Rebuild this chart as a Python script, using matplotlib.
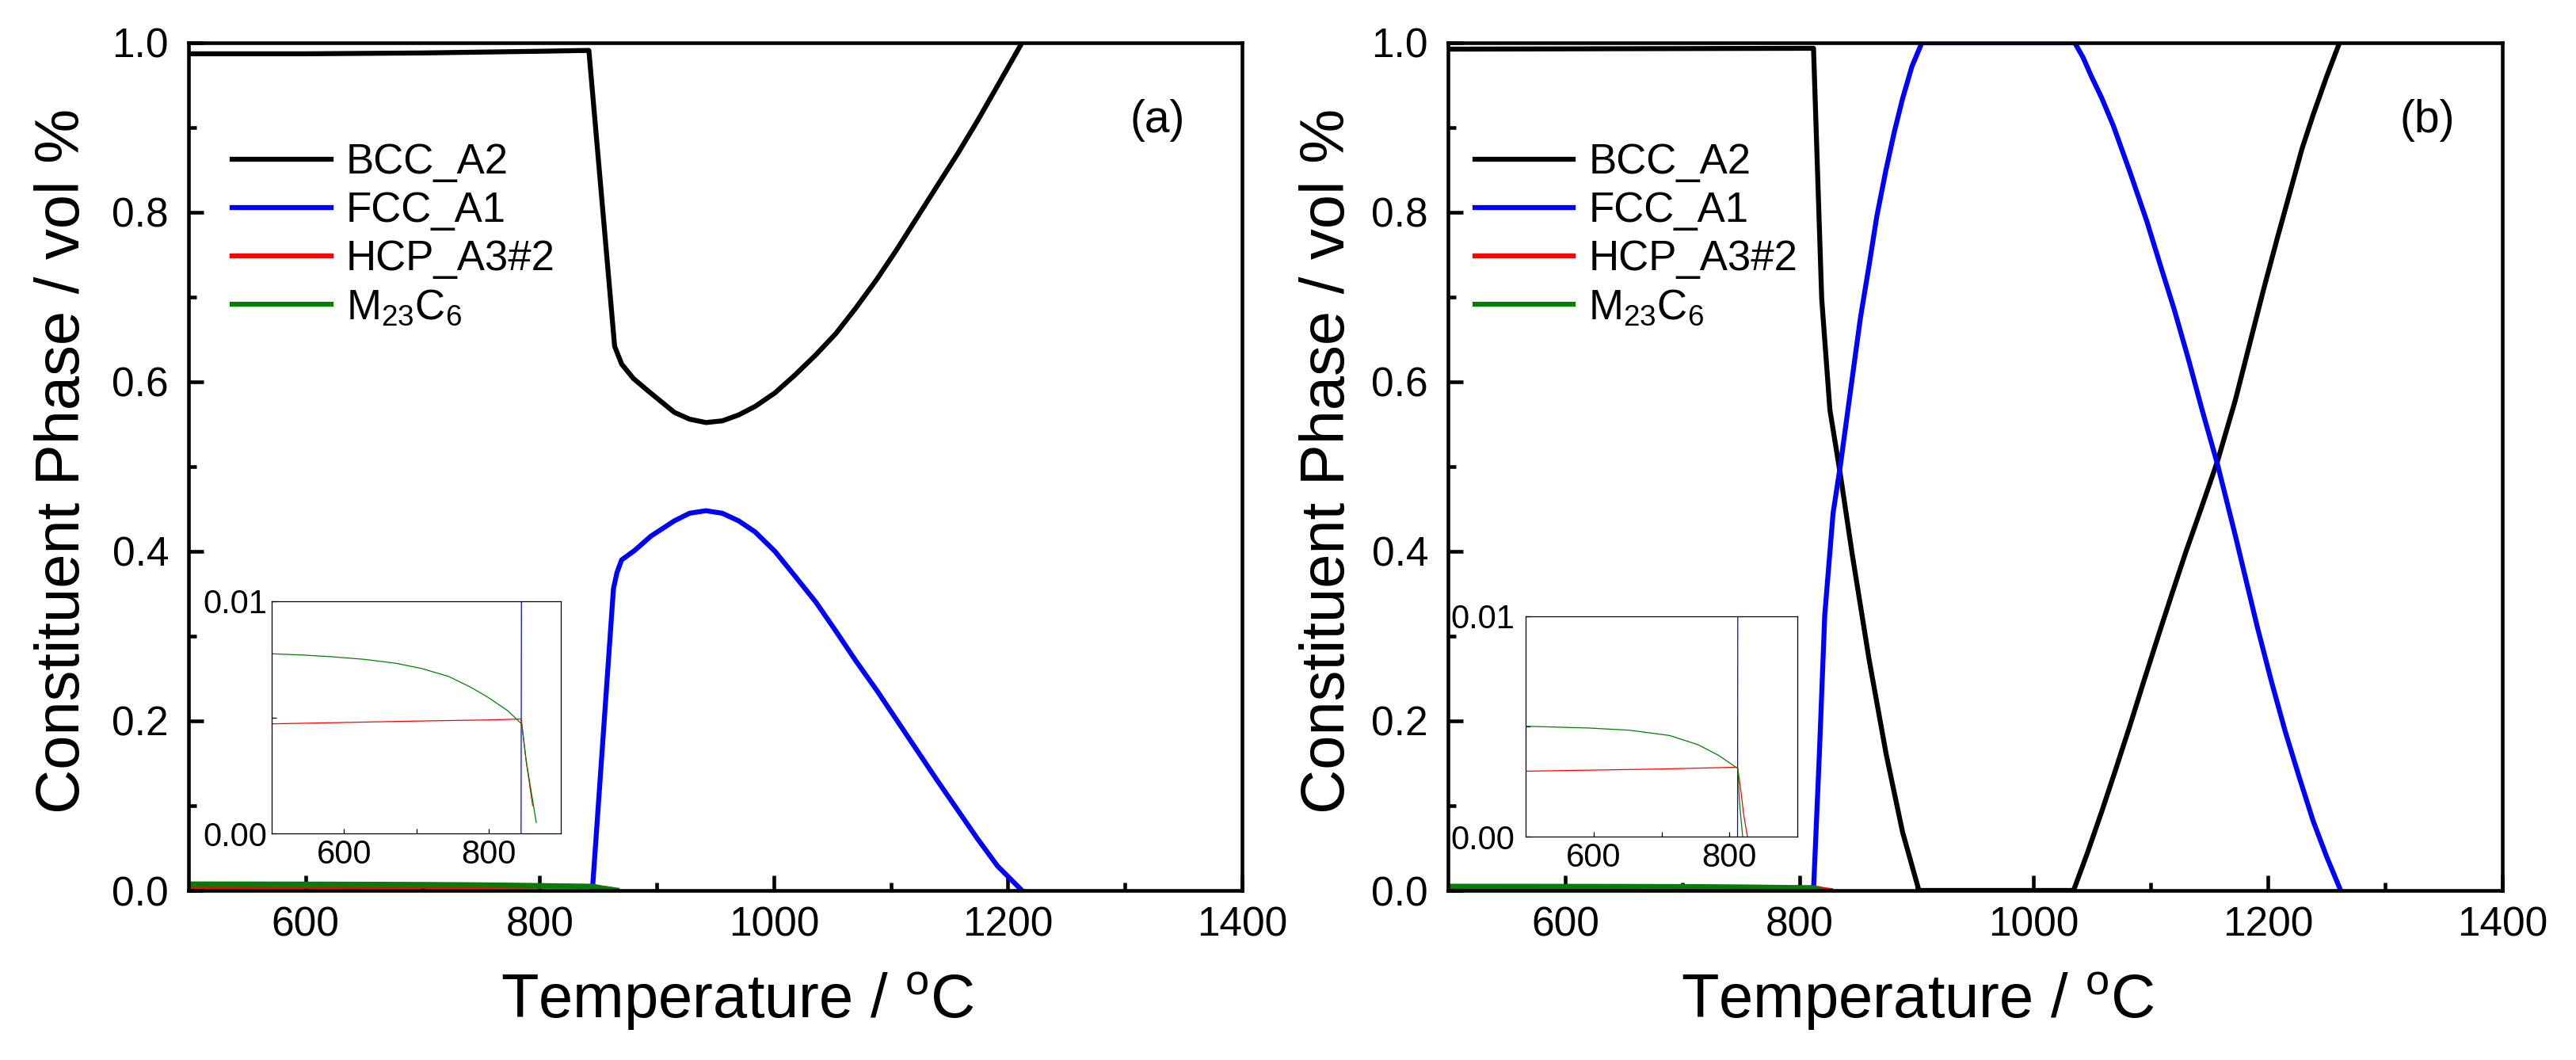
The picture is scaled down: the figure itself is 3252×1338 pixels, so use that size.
import matplotlib
matplotlib.use("Agg")
import matplotlib.pyplot as plt
from matplotlib.ticker import FixedLocator, FormatStrFormatter

plt.rcParams['font.family'] = ['Liberation Sans', 'DejaVu Sans']
plt.rcParams['mathtext.fontset'] = 'custom'
plt.rcParams['mathtext.rm'] = 'Liberation Sans'
plt.rcParams['mathtext.it'] = 'Liberation Sans:italic'
plt.rcParams['mathtext.bf'] = 'Liberation Sans:bold'

# ---------------- data: panel (a) ----------------
T_bcc_a = [500, 600, 700, 800, 842, 864, 870, 880, 892, 915, 928, 942, 956, 970, 984, 1001, 1018,
           1036, 1053, 1070, 1088, 1105, 1122, 1139, 1157, 1174, 1191, 1212]
bcc_a   = [0.987, 0.987, 0.988, 0.990, 0.991, 0.642, 0.621, 0.604, 0.590, 0.564, 0.556, 0.552, 0.554,
           0.561, 0.571, 0.587, 0.608, 0.632, 0.657, 0.687, 0.721, 0.756, 0.793, 0.830, 0.869, 0.908,
           0.949, 1.0]

T_fcc_a = [845, 863, 866, 870, 881, 895, 915, 928, 942, 956, 970, 984, 1001, 1018, 1036, 1053, 1070,
           1088, 1105, 1122, 1139, 1157, 1174, 1191, 1212]
fcc_a   = [0.0, 0.356, 0.375, 0.390, 0.401, 0.418, 0.436, 0.445, 0.448, 0.445, 0.436, 0.423, 0.400,
           0.371, 0.340, 0.306, 0.271, 0.236, 0.201, 0.166, 0.131, 0.095, 0.061, 0.029, 0.0]

T_hcp_a = [500, 600, 700, 800, 845, 846, 852, 861]
hcp_a   = [0.00472, 0.00478, 0.00484, 0.00489, 0.00493, 0.00471, 0.00314, 0.00120]

T_m23_a = [500, 540, 584, 628, 672, 708, 745, 774, 798, 826, 846, 852, 866]
m23_a   = [0.00774, 0.00769, 0.00761, 0.00750, 0.00733, 0.00710, 0.00676, 0.00632, 0.00589, 0.00530,
           0.00471, 0.00314, 0.00047]

# ---------------- data: panel (b) ----------------
T_bcc_b = [500, 650, 812, 819, 826, 835, 845, 859.5, 874, 888, 902, 1034, 1046, 1058.5, 1070, 1082,
           1094, 1106, 1118, 1130, 1143, 1157, 1172, 1184, 1196, 1208, 1220, 1229, 1238.5, 1250, 1261]
bcc_b   = [0.9925, 0.993, 0.9935, 0.698, 0.567, 0.490, 0.397, 0.272, 0.161, 0.069, 0.0, 0.0, 0.045,
           0.095, 0.143, 0.194, 0.247, 0.299, 0.350, 0.400, 0.451, 0.507, 0.578, 0.643, 0.708, 0.770,
           0.830, 0.875, 0.915, 0.960, 1.0]

T_fcc_b = [812, 817, 821.6, 828.7, 835, 845.3, 852, 859.5, 866, 873.7, 881, 888, 896, 904.5,
           1035, 1042, 1049, 1058, 1068, 1082, 1096.4, 1108, 1120, 1132, 1143.7, 1157, 1172.2, 1191,
           1203, 1214.8, 1227, 1238.5, 1250, 1262]
fcc_b   = [0.0, 0.161, 0.325, 0.445, 0.502, 0.607, 0.675, 0.738, 0.795, 0.849, 0.895, 0.934, 0.972, 1.0,
           1.0, 0.983, 0.961, 0.935, 0.902, 0.848, 0.790, 0.738, 0.685, 0.627, 0.567, 0.502, 0.418, 0.310,
           0.246, 0.187, 0.132, 0.082, 0.040, 0.0]

T_hcp_b = [500, 600, 700, 812, 816, 821, 826.5]
hcp_b   = [0.00297, 0.00302, 0.00307, 0.00315, 0.00230, 0.00100, 0.0]

T_m23_b = [500, 593, 653, 712, 754, 784, 812.4, 815, 819.5]
m23_b   = [0.00501, 0.00493, 0.00483, 0.00459, 0.00417, 0.00369, 0.00309, 0.00150, 0.0]

labels = ['BCC_A2', 'FCC_A1', 'HCP_A3#2', r'M$_{23}$C$_6$']
colors = ['#000000', '#0000FF', '#FF0000', '#008000']

x_major = [600, 800, 1000, 1200, 1400]
x_minor = [700, 900, 1100, 1300]
y_major = [0.0, 0.2, 0.4, 0.6, 0.8, 1.0]
y_minor = [0.1, 0.3, 0.5, 0.7, 0.9]
ins_x_major = [600, 800]
ins_x_minor = [700]
ins_y_major = [0.0, 0.01]
ins_y_minor = [0.005]

W, H = 3252, 1338
fig = plt.figure(figsize=(W / 100, H / 100), dpi=100)


def rect(l, t, r, b):
    return [l / W, 1 - b / H, (r - l) / W, (b - t) / H]


def style_main(ax):
    ax.set_xlim(500, 1400)
    ax.set_ylim(0, 1.0)
    ax.xaxis.set_major_locator(FixedLocator(x_major))
    ax.xaxis.set_minor_locator(FixedLocator(x_minor))
    ax.yaxis.set_major_locator(FixedLocator(y_major))
    ax.yaxis.set_minor_locator(FixedLocator(y_minor))
    ax.yaxis.set_major_formatter(FormatStrFormatter('%.1f'))
    ax.xaxis.set_major_formatter(FormatStrFormatter('%d'))
    for s in ax.spines.values():
        s.set_linewidth(3.3)
    ax.tick_params(which='both', direction='in', top=False, right=False, width=3.3)
    ax.tick_params(which='major', length=14, labelsize=37)
    ax.tick_params(which='minor', length=7)
    ax.tick_params(axis='x', which='major', pad=14)
    ax.tick_params(axis='y', which='major', pad=18)


def style_inset(ax, ypad):
    ax.set_xlim(500, 900)
    ax.set_ylim(0, 0.01)
    ax.xaxis.set_major_locator(FixedLocator(ins_x_major))
    ax.xaxis.set_minor_locator(FixedLocator(ins_x_minor))
    ax.yaxis.set_major_locator(FixedLocator(ins_y_major))
    ax.yaxis.set_minor_locator(FixedLocator(ins_y_minor))
    ax.yaxis.set_major_formatter(FormatStrFormatter('%.2f'))
    ax.xaxis.set_major_formatter(FormatStrFormatter('%d'))
    for s in ax.spines.values():
        s.set_linewidth(0.9)
    ax.tick_params(which='both', direction='in', top=False, right=False, width=0.9, length=4)
    ax.tick_params(which='major', labelsize=30)
    ax.tick_params(axis='x', which='major', pad=5)
    ax.tick_params(axis='y', which='major', pad=ypad)


panels = [
    dict(rect=rect(238, 54, 1568, 1124), ins=rect(343, 759, 708, 1052), ypad=4.5,
         data=[(T_bcc_a, bcc_a), (T_fcc_a, fcc_a), (T_hcp_a, hcp_a), (T_m23_a, m23_a)],
         leg=(0.0414, 0.882), tag='(a)', tagpos=(0.9195, 0.908),
         xlab=(931, 1285), ylab=(100, 582)),
    dict(rect=rect(1828, 54, 3159, 1124), ins=rect(1926, 778, 2269, 1056), ypad=10,
         data=[(T_bcc_b, bcc_b), (T_fcc_b, fcc_b), (T_hcp_b, hcp_b), (T_m23_b, m23_b)],
         leg=(0.0255, 0.882), tag='(b)', tagpos=(0.929, 0.908),
         xlab=(2421, 1285), ylab=(1697, 582)),
]

for p in panels:
    ax = fig.add_axes(p['rect'])
    handles = []
    for (t, v), c, lab in zip(p['data'], colors, labels):
        h, = ax.plot(t, v, color=c, lw=4.5, label=lab, solid_joinstyle='round')
        handles.append(h)
    style_main(ax)
    ax.legend(handles=handles, loc='upper left', bbox_to_anchor=p['leg'], frameon=False,
              borderaxespad=0, borderpad=0, handlelength=2.36, handletextpad=0.36,
              labelspacing=0.21, fontsize=38)
    ax.text(p['tagpos'][0], p['tagpos'][1], p['tag'], transform=ax.transAxes,
            ha='center', va='center', fontsize=41)
    fig.text(p['xlab'][0] / W, 1 - p['xlab'][1] / H, r'Temperature / $\mathregular{^o}$C',
             ha='center', va='baseline', fontsize=56)
    fig.text(p['ylab'][0] / W, 1 - p['ylab'][1] / H, 'Constituent Phase / vol %',
             ha='center', va='baseline', rotation=90, rotation_mode='anchor', fontsize=56)

    ins = fig.add_axes(p['ins'])
    for (t, v), c in list(zip(p['data'], colors))[1:]:
        ins.plot(t, v, color=c, lw=0.9)
    style_inset(ins, p['ypad'])

fig.savefig('out.png', dpi=100)
